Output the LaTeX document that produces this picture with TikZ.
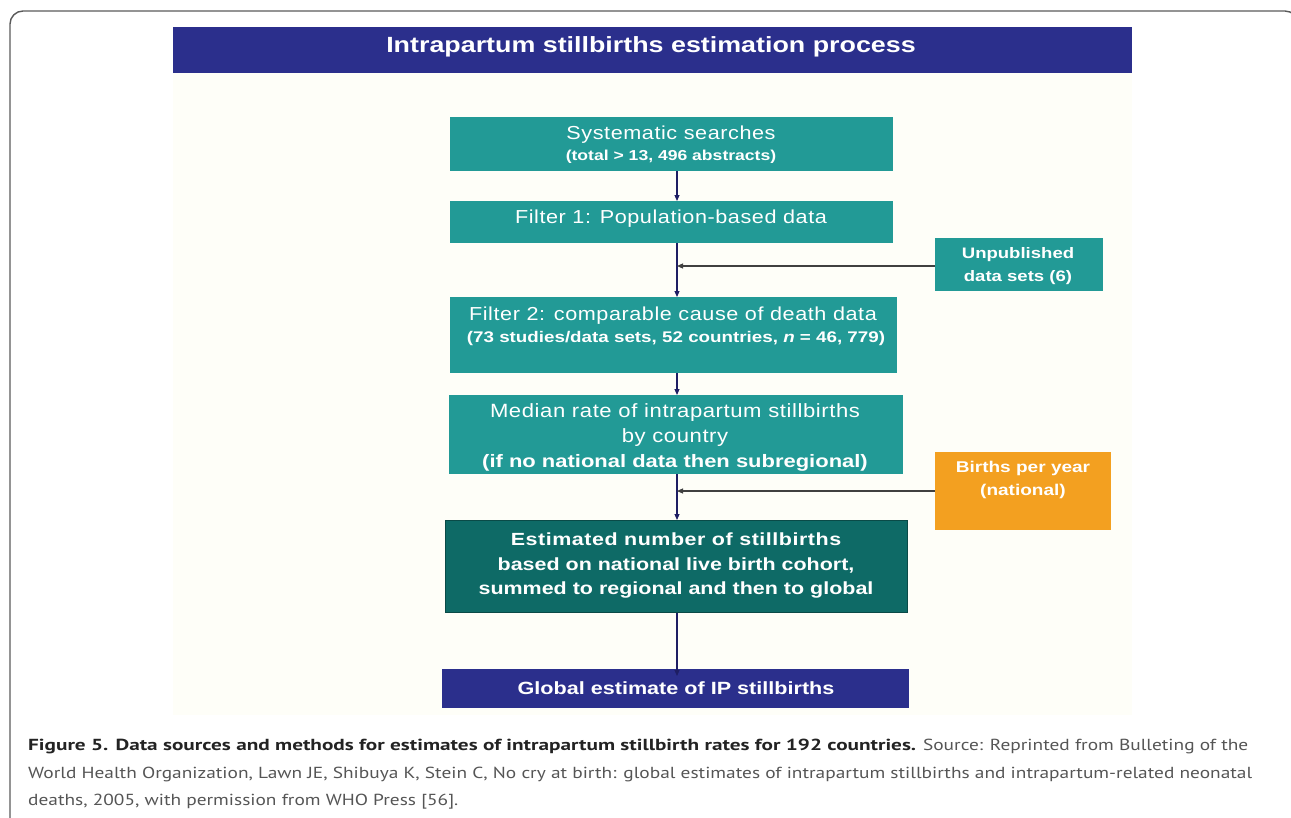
\documentclass[tikz,border=0pt]{standalone}
\usepackage{fontspec}
\setmainfont{Liberation Sans}[FakeStretch=1.22]
\newfontfamily\boxfont{Liberation Sans}[LetterSpace=3,FakeStretch=1.15]
\newfontfamily\widebold{Liberation Sans}[LetterSpace=3,FakeStretch=1.22]
\newfontfamily\capfont{PT Sans}[FakeStretch=1.21,BoldFeatures={FakeStretch=1.327}]
\usetikzlibrary{arrows.meta}
\definecolor{tealA}{RGB}{34,154,150}
\definecolor{tealB}{RGB}{14,106,102}
\definecolor{navy}{RGB}{43,47,140}
\definecolor{orangeA}{RGB}{243,160,32}
\definecolor{arrnavy}{RGB}{30,30,100}
\definecolor{framegray}{RGB}{90,90,90}
\definecolor{capdark}{RGB}{35,35,35}
\definecolor{capgray}{RGB}{85,85,85}
\definecolor{paper}{RGB}{254,254,248}
\begin{document}
\begin{tikzpicture}[x=1pt,y=-1pt,
  box/.style={draw=none, inner sep=0pt, anchor=north west},
  txt/.style={text=white, align=center, inner sep=0pt, font=\boxfont},
  varr/.style={draw=arrnavy, line width=1.1pt, -{Triangle[length=6pt,width=5pt]}},
  harr/.style={draw=black!75, line width=1.1pt, -{Triangle[length=6pt,width=5pt]}}
]
\useasboundingbox (0,0) rectangle (1291,817);
% frame
\draw[framegray, line width=1.4pt, rounded corners=13pt] (10,11) rectangle (1298,840);
% faint background of figure
\fill[paper] (173,73) rectangle (1132,715);
% title
\node[box, fill=navy, minimum width=959pt, minimum height=46pt] (title) at (173,27) {};
\node[txt, font=\bfseries\fontsize{22}{26}\selectfont] (titletxt) at (651,47) {Intrapartum stillbirths estimation process};
% boxes
\node[box, fill=tealA, minimum width=443pt, minimum height=54pt] (b1) at (450,117) {};
\node[box, fill=tealA, minimum width=443pt, minimum height=42pt] (b2) at (450,201) {};
\node[box, fill=tealA, minimum width=168pt, minimum height=53pt] (un) at (935,238) {};
\node[box, fill=tealA, minimum width=447pt, minimum height=76pt] (b3) at (450,297) {};
\node[box, fill=tealA, minimum width=454pt, minimum height=79pt] (b4) at (449,395) {};
\node[box, fill=orangeA, minimum width=176pt, minimum height=78pt] (bo) at (935,452) {};
\node[box, fill=tealB, draw=tealB!70!black, line width=1pt, minimum width=462pt, minimum height=92pt] (b5) at (445,520) {};
\node[box, fill=navy, minimum width=467pt, minimum height=39pt] (b6) at (442,669) {};
% texts
\node[txt, font=\boxfont\fontsize{18.8}{22}\selectfont] (t1a) at (671,135) {Systematic searches};
\node[txt, font=\bfseries\fontsize{14.4}{18}\selectfont] (t1b) at (671,157) {(total > 13, 496 abstracts)};
\node[txt, font=\boxfont\fontsize{18.8}{22}\selectfont] (t2) at (671,219) {Filter 1: Population-based data};
\node[txt, font=\bfseries\fontsize{15.2}{23}\selectfont] (tu) at (1018,266) {Unpublished\\data sets (6)};
\node[txt, font=\boxfont\fontsize{18.8}{22}\selectfont] (t3a) at (673,316) {Filter 2: comparable cause of death data};
\node[txt, font=\bfseries\fontsize{15.4}{18}\selectfont] (t3b) at (676,339) {(73 studies/data sets, 52 countries, \textit{n} = 46, 779)};
\node[txt, font=\boxfont\fontsize{19.2}{25}\selectfont] (t4a) at (675,425.5) {Median rate of intrapartum stillbirths\\by country};
\node[txt, font=\bfseries\fontsize{18}{18}\selectfont] (t4b) at (675,463) {(if no national data then subregional)};
\node[txt, font=\bfseries\fontsize{15.6}{23}\selectfont] (to) at (1023,479.5) {Births per year\\(national)};
\node[txt, font=\bfseries\fontsize{17.6}{24.5}\selectfont] (t5) at (676,565.5) {{\widebold\bfseries Estimated number of stillbirths}\\based on national live birth cohort,\\summed to regional and then to global};
\node[txt, font=\bfseries\fontsize{17.7}{22}\selectfont] (t6) at (676,688) {Global estimate of IP stillbirths};
% connectors
\coordinate (ax) at (677,0);
\coordinate (j1) at (677,266);
\coordinate (j2) at (677,491);
\draw[varr] (b1.south -| ax) -- (b2.north -| ax);
\draw[varr] (b2.south -| ax) -- (b3.north -| ax);
\draw[varr] (b3.south -| ax) -- (b4.north -| ax);
\draw[varr] (b4.south -| ax) -- (b5.north -| ax);
\draw[varr] (b5.south -| ax) -- ([yshift=-7pt]b6.north -| ax);
\draw[harr] (un.west |- j1) -- (j1);
\draw[harr] (bo.west |- j2) -- (j2);
% caption
\node[anchor=north west, align=left, inner sep=0pt, font=\capfont\fontsize{16}{27.5}\selectfont, text=capgray] (cap) at (28,739) {\textcolor{capdark}{\bfseries Figure 5. Data sources and methods for estimates of intrapartum stillbirth rates for 192 countries.} Source: Reprinted from Bulleting of the\\World Health Organization, Lawn JE, Shibuya K, Stein C, No cry at birth: global estimates of intrapartum stillbirths and intrapartum-related neonatal\\deaths, 2005, with permission from WHO Press [56].};
\end{tikzpicture}
\end{document}
